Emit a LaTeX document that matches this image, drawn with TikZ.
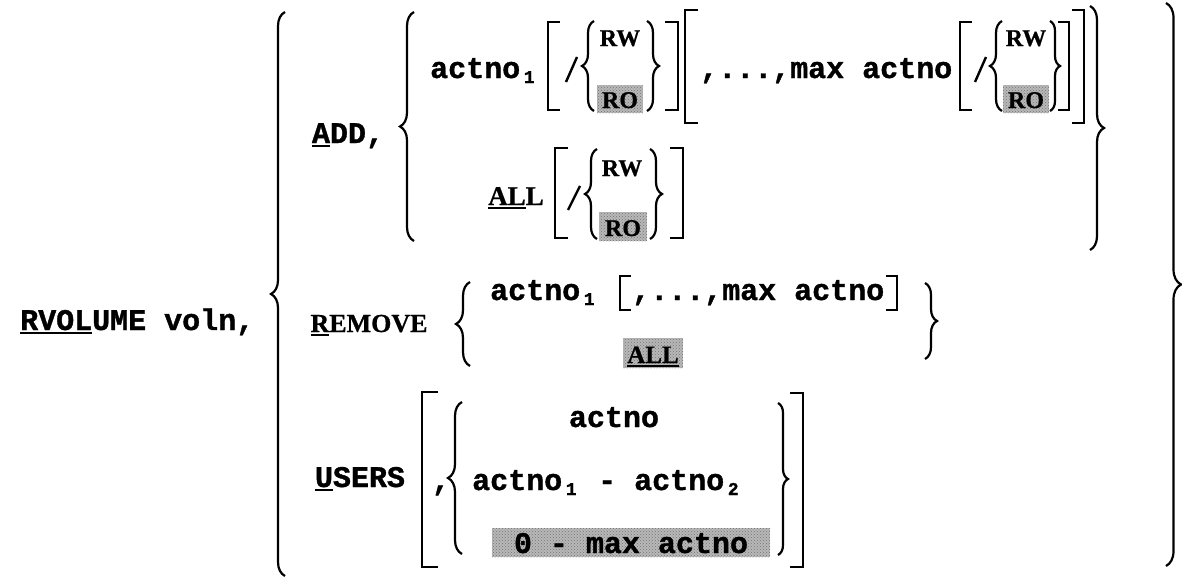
\documentclass[tikz,border=0pt]{standalone}
\usepackage{fontspec}
\setmainfont{Liberation Mono}[FakeBold=1.2]
\newfontfamily\serifb{Liberation Serif}[FakeBold=0.8]
\usetikzlibrary{decorations.pathreplacing,patterns}
\newcommand{\sbs}[1]{\makebox[0.6em][c]{\raisebox{-5pt}{\fontsize{18}{18}\selectfont\bfseries #1}}}
\newcommand{\uln}[1]{\setbox0\hbox{#1}\rlap{\rule[-4pt]{\wd0}{2pt}}\box0}
\begin{document}
\begin{tikzpicture}[x=1pt,y=-1pt,
  txt/.style={inner sep=0pt, anchor=base, font=\fontsize{30}{30}\selectfont\bfseries},
  kw/.style={inner sep=0pt, anchor=base, font=\serifb\fontsize{25}{25}\selectfont\bfseries},
  sm/.style={inner sep=0pt, anchor=base, font=\serifb\fontsize{24}{24}\selectfont\bfseries},
  shade/.style={fill=black!28, draw=none, postaction={pattern=crosshatch dots, pattern color=black!55}},
  brk/.style={line width=2.4pt, line cap=butt, line join=miter},
  slash/.style={line width=2.4pt},
  brc/.style={line width=2.2pt, decorate, decoration={brace, amplitude=#1}},
  brc/.default=12]
\useasboundingbox (0,0) rectangle (1182,578);

% main command
\node[txt, anchor=base west] (rvol) at (20,330) {\uln{RVOL}UME voln,};
\draw[brc=14] (285,576) -- (285,12);
\draw[brc=15] (1166,3) -- (1166,566);

% ADD section
\node[txt] (add) at (348,143) {\uln{A}DD,};
\draw[brc=14] (414,241) -- (414,12);
\draw[brc=14] (1090,6) -- (1090,250);

% row 1
\node[txt, anchor=base west] (a1) at (430,78) {actno\sbs{1}};
\draw[brk] (560,22) -- (548,22) -- (548,110) -- (560,110);
\draw[slash] (566,82) -- (577,57);
\draw[brc] (594,111) -- (594,21);
\node[sm] (rw1) at (620,46) {RW};
\fill[shade] (597,85) rectangle (643,113);
\node[sm] (ro1) at (620,108) {RO};
\draw[brc] (647,21) -- (647,111);
\draw[brk] (665,22) -- (678,22) -- (678,110) -- (665,110);
\draw[brk] (698,10) -- (685,10) -- (685,123) -- (698,123);
\node[txt, anchor=base west] (mx1) at (700,78) {,...,max actno};
\draw[brk] (972,22) -- (960,22) -- (960,110) -- (972,110);
\draw[slash] (975,82) -- (986,57);
\draw[brc] (1002,111) -- (1002,21);
\node[sm] (rw2) at (1026,46) {RW};
\fill[shade] (1003,85) rectangle (1049,113);
\node[sm] (ro2) at (1026,108) {RO};
\draw[brc=10] (1050,21) -- (1050,111);
\draw[brk] (1058,22) -- (1069,22) -- (1069,110) -- (1058,110);
\draw[brk] (1072,10) -- (1084,10) -- (1084,123) -- (1072,123);

% row 2 (ALL)
\node[kw, font=\serifb\fontsize{27}{27}\selectfont\bfseries] (all1) at (516,205) {\uln{AL}L};
\draw[brk] (568,148) -- (555,148) -- (555,238) -- (568,238);
\draw[slash] (568,210) -- (580,186);
\draw[brc] (597,239) -- (597,149);
\node[sm] (rw3) at (622,176) {RW};
\fill[shade] (599,212) rectangle (647,241);
\node[sm] (ro3) at (623,236) {RO};
\draw[brc] (650,149) -- (650,239);
\draw[brk] (670,148) -- (683,148) -- (683,238) -- (670,238);

% REMOVE section
\node[kw, font=\serifb\fontsize{26}{26}\selectfont\bfseries] (rem) at (369,332) {\uln{R}EMOVE};
\draw[brc=14] (470,366) -- (470,282);
\node[txt, anchor=base west] (a2) at (490,300) {actno\sbs{1}};
\draw[brk] (631,276) -- (620,276) -- (620,310) -- (631,310);
\node[txt, anchor=base west] (mx2) at (632,300) {,...,max actno};
\draw[brk] (886,276) -- (897,276) -- (897,310) -- (886,310);
\fill[shade] (623,338) rectangle (683,368);
\node[kw] (all2) at (653,363) {\uln{ALL}};
\draw[brc=12] (925,283) -- (925,359);

% USERS section
\node[txt] (usr) at (360,487) {\uln{U}SERS};
\draw[brk] (438,392) -- (422,392) -- (422,567) -- (438,567);
\node[txt] (comma) at (441,490) {,};
\draw[brc=14] (462,554) -- (462,402);
\node[txt] (a3) at (614,427) {actno};
\node[txt, anchor=base west] (a4) at (472,490) {actno\sbs{1} - actno\sbs{2}};
\fill[shade] (492,528) rectangle (770,557);
\node[txt] (mx3) at (631,553) {0 - max actno};
\draw[brc=10] (778,403) -- (778,555);
\draw[brk] (790,393) -- (803,393) -- (803,567) -- (790,567);
\end{tikzpicture}
\end{document}
